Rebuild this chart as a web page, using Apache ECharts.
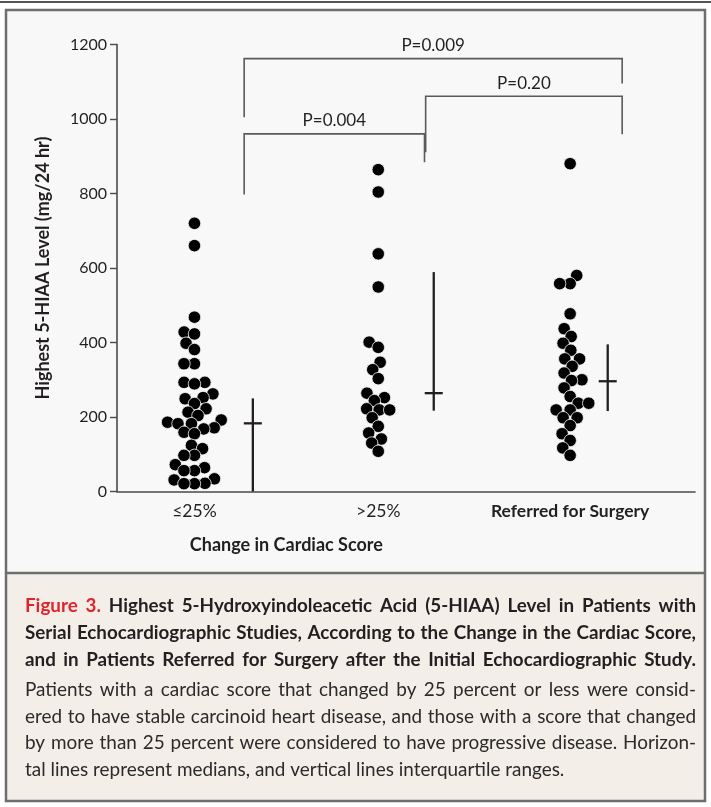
<!DOCTYPE html>
<html><head><meta charset="utf-8">
<script src="https://cdn.jsdelivr.net/npm/echarts@6/dist/echarts.min.js"></script>
<style>html,body{margin:0;padding:0;background:#fff}#c{width:711px;height:807px}</style>
</head><body><div id="c"></div>
<script>
// ---------------- data ----------------
const categories = ['≤25%', '>25%', 'Referred for Surgery'];
const stableValues = [720, 660, 468, 428, 423, 398, 381, 343, 343, 293, 293, 289, 262, 252, 249, 236, 222, 213, 204, 192, 186, 182, 182, 171, 168, 159, 155, 124, 115, 97, 97, 72, 64, 56, 56, 34, 31, 22, 21, 21];
const progressiveValues = [864, 804, 638, 549, 401, 387, 347, 327, 303, 264, 252, 244, 222, 219, 219, 198, 175, 157, 141, 130, 108];
const surgeryValues = [880, 580, 558, 558, 477, 437, 416, 398, 379, 356, 356, 336, 318, 300, 298, 278, 255, 237, 237, 219, 219, 198, 198, 177, 155, 137, 117, 97];
const medians = [183, 264, 296];
const lowerQuartiles = [0, 217, 216];
const upperQuartiles = [250, 589, 395];
const yMin = 0, yMax = 1200, yInterval = 200;
const pLabels = ['P=0.009', 'P=0.20', 'P=0.004'];
const bracketLevels = [1162, 1061, 960];
const bracketLeftEnds = [1005, 911, 797];
const bracketRightEnds = [1095, 959, 884];
const yAxisTitle = 'Highest 5-HIAA Level (mg/24 hr)';
const xAxisTitle = 'Change in Cardiac Score';
const captionTitleLines = [
  [['Figure 3.', 'red'], ['Highest 5-Hydroxyindoleacetic Acid (5-HIAA) Level in Patients with', 'dark']],
  [['Serial Echocardiographic Studies, According to the Change in the Cardiac Score,', 'dark']],
  [['and in Patients Referred for Surgery after the Initial Echocardiographic Study.', 'dark']]
];
const captionBodyLines = [
  'Patients with a cardiac score that changed by 25 percent or less were consid-',
  'ered to have stable carcinoid heart disease, and those with a score that changed',
  'by more than 25 percent were considered to have progressive disease. Horizon-',
  'tal lines represent medians, and vertical lines interquartile ranges.'
];

// ---------------- layout ----------------
const FONT = 'Lato';
const groupX = [13.4, 45.2, 78.4];
const medianX = [23.5, 54.8, 84.9];
const bracketX = [[22.0, 87.4], [53.4, 87.4], [22.0, 53.2]];
const DOT = 12.5;

const chart = echarts.init(document.getElementById('c'), null, {renderer: 'canvas'});

const baseOption = {
  backgroundColor: '#ffffff',
  animation: false,
  grid: {left: 117, right: 16, top: 44.5, bottom: 315.5, containLabel: false},
  xAxis: {
    type: 'value', min: 0, max: 100,
    splitLine: {show: false},
    axisLine: {show: true, lineStyle: {color: '#4a4a4a', width: 1.6}},
    axisTick: {show: false},
    axisLabel: {
      show: true,
      customValues: groupX,
      margin: 11,
      fontFamily: FONT, fontSize: 17.5, color: '#231f20',
      formatter: function (v) {
        let i = 0, best = 1e9;
        groupX.forEach((g, k) => { if (Math.abs(g - v) < best) { best = Math.abs(g - v); i = k; } });
        return i === 2 ? '{b|' + categories[i] + '}' : categories[i];
      },
      rich: {b: {fontFamily: FONT, fontSize: 17.5, fontWeight: 'bold', color: '#231f20'}}
    }
  },
  yAxis: {
    type: 'value', min: yMin, max: yMax, interval: yInterval,
    splitLine: {show: false},
    axisLine: {show: true, lineStyle: {color: '#4a4a4a', width: 1.6}},
    axisTick: {show: true, inside: false, length: 7, lineStyle: {color: '#4a4a4a', width: 1.4}},
    axisLabel: {fontFamily: FONT, fontSize: 16, color: '#231f20', margin: 10, formatter: v => String(v)},
    name: yAxisTitle, nameLocation: 'middle', nameGap: 65,
    nameTextStyle: {fontFamily: FONT, fontSize: 18, fontWeight: 'bold', color: '#231f20'}
  },
  series: []
};
chart.setOption(baseOption);

// ---------------- beeswarm placement (deterministic) ----------------
const pxPerX = (chart.convertToPixel({gridIndex: 0}, [100, 0])[0] - chart.convertToPixel({gridIndex: 0}, [0, 0])[0]) / 100;
function yPx(v) { return chart.convertToPixel({gridIndex: 0}, [0, v])[1]; }
function swarm(values, cx, D) {
  const order = values.map((v, i) => i).sort((a, b) => values[a] - values[b]);
  const placed = [];
  const res = new Array(values.length);
  order.forEach(i => {
    const py = yPx(values[i]);
    const ivs = [];
    placed.forEach(p => {
      const dy = Math.abs(p.py - py);
      if (dy < D) { const w = Math.sqrt(D * D - dy * dy); ivs.push([p.dx - w, p.dx + w]); }
    });
    const cands = [0];
    ivs.forEach(iv => cands.push(iv[0], iv[1]));
    cands.sort((a, b) => (Math.abs(a) - Math.abs(b)) || (a - b));
    const dx = cands.find(c => ivs.every(iv => c <= iv[0] + 1e-6 || c >= iv[1] - 1e-6));
    placed.push({py: py, dx: dx});
    res[i] = [cx + dx / pxPerX, values[i]];
  });
  return res;
}
const groups = [stableValues, progressiveValues, surgeryValues];
const scatterSeries = groups.map((vals, g) => ({
  type: 'scatter',
  name: categories[g],
  symbol: 'circle',
  symbolSize: DOT,
  itemStyle: {color: '#000000', borderColor: '#f8f8f8', borderWidth: 0.8, opacity: 1},
  z: 4,
  data: swarm(vals, groupX[g], 10.5)
}));

const medianSeries = {
  type: 'custom',
  z: 3,
  renderItem: function (params, api) {
    const x = api.value(0);
    const lo = api.coord([x, api.value(1)]);
    const hi = api.coord([x, api.value(3)]);
    const md = api.coord([x, api.value(2)]);
    const st = {stroke: '#231f20', lineWidth: 2.3};
    return {type: 'group', children: [
      {type: 'line', shape: {x1: lo[0], y1: lo[1], x2: hi[0], y2: hi[1]}, style: st},
      {type: 'line', shape: {x1: md[0] - 9, y1: md[1], x2: md[0] + 9, y2: md[1]}, style: st}
    ]};
  },
  data: medianX.map((x, i) => [x, lowerQuartiles[i], medians[i], upperQuartiles[i]])
};

const bracketSeries = {
  type: 'custom',
  z: 3,
  renderItem: function (params, api) {
    const i = params.dataIndex;
    const x1 = api.value(0), x2 = api.value(1), y = api.value(2), l1 = api.value(3), l2 = api.value(4);
    const a = api.coord([x1, l1]), b = api.coord([x1, y]), c = api.coord([x2, y]), d = api.coord([x2, l2]);
    return {type: 'group', children: [
      {type: 'polyline', shape: {points: [a, b, c, d]}, style: {stroke: '#5a5a5a', lineWidth: 1.6, fill: null}},
      {type: 'text', style: {text: pLabels[i], x: (b[0] + c[0]) / 2, y: b[1] - 13, align: 'center', verticalAlign: 'middle',
        fontFamily: FONT, fontSize: 17, fill: '#231f20'}}
    ]};
  },
  data: bracketX.map((bx, i) => [bx[0], bx[1], bracketLevels[i], bracketLeftEnds[i], bracketRightEnds[i]])
};

const gx0 = chart.convertToPixel({gridIndex: 0}, [groupX[0], 0])[0];
const gx1 = chart.convertToPixel({gridIndex: 0}, [groupX[1], 0])[0];

// ---------------- frame + caption graphics ----------------
const measureCtx = document.createElement('canvas').getContext('2d');
function measureF(txt, weight, size, fam) { measureCtx.font = weight + ' ' + size + 'px ' + fam; return measureCtx.measureText(txt).width; }
const CAP_L = 25, CAP_R = 696;
const colors = {red: '#e2232a', dark: '#231f20', body: '#2b2b2b'};

function layoutParagraph(lines, weight, yStart, lineH, justifyLast, fam, sizeCap) {
  const base = 16;
  let maxW = 0;
  lines.forEach(segs => { const t = segs.map(s => s[0]).join(' '); maxW = Math.max(maxW, measureF(t, weight, base, fam)); });
  const size = Math.min(sizeCap, base * (CAP_R - CAP_L) * 0.985 / maxW);
  const out = [];
  lines.forEach((segs, li) => {
    const words = [];
    segs.forEach(s => s[0].split(' ').forEach(w => words.push({t: w, c: colors[s[1]]})));
    const ws = words.map(w => measureF(w.t, weight, size, fam));
    const total = ws.reduce((p, q) => p + q, 0);
    const spaceW = measureF(' ', weight, size, fam);
    const isLast = li === lines.length - 1;
    const gap = (isLast && !justifyLast) ? spaceW : ((CAP_R - CAP_L) - total) / (words.length - 1);
    let x = CAP_L;
    const y = yStart + li * lineH;
    words.forEach((w, k) => {
      out.push({type: 'text', z: 20, style: {text: w.t, x: x, y: y, verticalAlign: 'middle', align: 'left',
        fontFamily: fam, fontSize: size, fontWeight: weight, fill: w.c}});
      x += ws[k] + gap;
    });
  });
  return out;
}

const titleEls = layoutParagraph(captionTitleLines, 'bold', 606, 27, true, FONT, 19.5);
const bodyEls = layoutParagraph(captionBodyLines.map(t => [[t, 'body']]), 'normal', 690, 26.7, false, FONT, 19.5);
const graphics = [
  {type: 'line', z: -5, shape: {x1: 0, y1: 2, x2: 711, y2: 2}, style: {stroke: '#555555', lineWidth: 2}},
  {type: 'rect', z: -5, shape: {x: 6, y: 10, width: 699, height: 563}, style: {fill: '#f8f8f8'}},
  {type: 'rect', z: -5, shape: {x: 6, y: 573, width: 699, height: 228}, style: {fill: '#f3eee8'}},
  {type: 'rect', z: 30, shape: {x: 6, y: 10, width: 699, height: 791}, style: {fill: null, stroke: '#6e6e6e', lineWidth: 2.5}},
  {type: 'line', z: 30, shape: {x1: 6, y1: 573, x2: 705, y2: 573}, style: {stroke: '#6e6e6e', lineWidth: 2.5}},
  {type: 'text', z: 20, style: {text: xAxisTitle, x: (gx0 + gx1) / 2, y: 545, align: 'center', verticalAlign: 'middle',
    fontFamily: FONT, fontSize: 18, fontWeight: 'bold', fill: '#231f20'}}
].concat(titleEls, bodyEls);

chart.setOption({
  series: scatterSeries.concat([medianSeries, bracketSeries]),
  graphic: {elements: graphics}
});
</script>
</body></html>
